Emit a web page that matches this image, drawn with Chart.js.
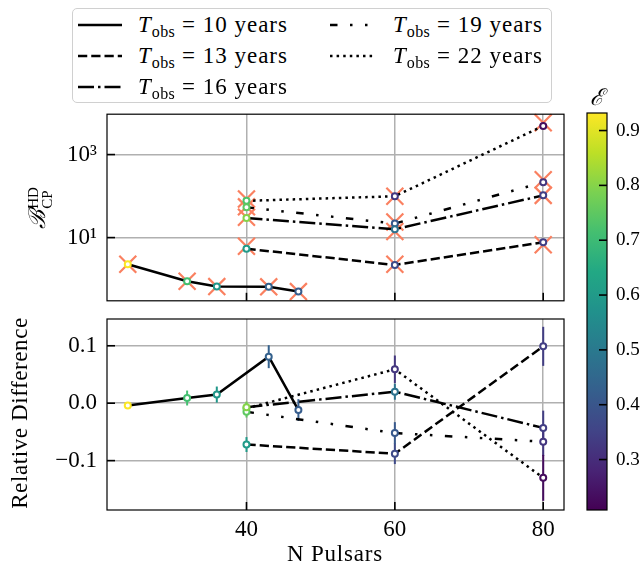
<!DOCTYPE html>
<html>
<head>
<meta charset="utf-8">
<script src="https://cdn.jsdelivr.net/npm/chart.js@4.4.1/dist/chart.umd.min.js"></script>
<style>
html,body{margin:0;padding:0;background:#fff;}
body{width:644px;height:569px;position:relative;overflow:hidden;font-family:"Liberation Serif","Times New Roman",serif;color:#000;}
canvas{position:absolute;}
#legendBox{position:absolute;left:72px;top:8px;width:478px;height:93px;border:1.5px solid #d0d0d0;border-radius:5px;background:#fff;}
.lt{position:absolute;font-size:23px;line-height:30px;height:30px;white-space:nowrap;letter-spacing:1px;}
.lt sub{font-size:16px;vertical-align:-5px;line-height:0;letter-spacing:0.4px;}
.lh{position:absolute;}
.lab{position:absolute;font-size:23px;white-space:nowrap;line-height:1;}
.sym{font-style:italic;}
.ss{display:inline-flex;flex-direction:column;font-size:15px;line-height:14px;vertical-align:middle;margin-left:1px;}
</style>
</head>
<body>
<div id="legendBox"></div>
<canvas id="top" width="580" height="215" style="left:0;top:100px;"></canvas>
<canvas id="bottom" width="580" height="259" style="left:0;top:310px;"></canvas>
<canvas id="cbar" width="74" height="420" style="left:570px;top:100px;"></canvas>
<div class="lab" style="left:40px;top:208px;transform:translate(-50%,-50%) rotate(-90deg);"><span class="sym">ℬ</span><span class="ss"><span>HD</span><span>CP</span></span></div>
<div class="lab" style="left:19px;top:413px;transform:translate(-50%,-50%) rotate(-90deg);letter-spacing:0.6px;">Relative Difference</div>
<div class="lab" style="left:335px;top:553px;transform:translate(-50%,-50%);letter-spacing:0.8px;">N Pulsars</div>
<div class="lab" style="left:597px;top:97px;transform:translate(-50%,-50%);"><span class="sym">ℰ</span></div>
<script>
// ---------------- data ----------------
const obsYears = [10, 13, 16, 19, 22];

const nPulsarsT10 = [24, 32, 36, 43, 47];
const nPulsarsLong = [40, 60, 80];

// Bayes factor (circles)
const bayesT10 = [2.27, 0.89, 0.66, 0.65, 0.50];
const bayesT13 = [5.4, 2.19, 7.7];
const bayesT16 = [29.5, 15.9, 104];
const bayesT19 = [53.6, 21.7, 215];
const bayesT22 = [76.7, 99, 4900];

// Bayes factor (crosses)
const crossT10 = [2.27, 0.89, 0.66, 0.65, 0.50];
const crossT13 = [6.2, 2.27, 6.7];
const crossT16 = [31, 14, 104];
const crossT19 = [55, 23.8, 248];
const crossT22 = [85, 99, 5850];

// colour value epsilon
const epsT10 = [0.93, 0.715, 0.59, 0.43, 0.42];
const epsT13 = [0.60, 0.37, 0.34];
const epsT16 = [0.80, 0.48, 0.34];
const epsT19 = [0.75, 0.41, 0.32];
const epsT22 = [0.73, 0.32, 0.23];

// relative difference and errors
const relDiffT10 = [-0.004, 0.009, 0.015, 0.081, -0.012];
const relErrT10  = [0.005, 0.013, 0.014, 0.020, 0.019];
const relDiffT13 = [-0.072, -0.088, 0.099];
const relErrT13  = [0.013, 0.018, 0.034];
const relDiffT16 = [-0.007, 0.020, -0.043];
const relErrT16  = [0.010, 0.014, 0.030];
const relDiffT19 = [-0.015, -0.052, -0.067];
const relErrT19  = [0.010, 0.019, 0.025];
const relDiffT22 = [-0.009, 0.059, -0.130];
const relErrT22  = [0.010, 0.024, 0.040];

// ticks
const xTicks = [40, 60, 80];
const topTicks = [10, 1000];
const topTickLabels = ['10\u00B9', '10\u00B3'];
const bottomTicks = [-0.1, 0.0, 0.1];
const bottomTickLabels = ['\u22120.1', '0.0', '0.1'];
const cbTicks = [0.3, 0.4, 0.5, 0.6, 0.7, 0.8, 0.9];
const cbTickLabels = ['0.3', '0.4', '0.5', '0.6', '0.7', '0.8', '0.9'];
const cbMin = 0.208, cbMax = 0.932;

// ---------------- style ----------------
const VIRIDIS = ['#440154','#482475','#414487','#355f8d','#2a788e','#21918c','#22a884','#44bf70','#7ad151','#bddf26','#fde725'];
function hex2rgb(h){return [parseInt(h.slice(1,3),16),parseInt(h.slice(3,5),16),parseInt(h.slice(5,7),16)];}
function viridis(v){
  let t = (v - cbMin) / (cbMax - cbMin);
  t = Math.max(0, Math.min(1, t));
  const s = t * 10, i = Math.min(9, Math.floor(s)), f = s - i;
  const a = hex2rgb(VIRIDIS[i]), b = hex2rgb(VIRIDIS[i+1]);
  return 'rgb(' + a.map((c,k)=>Math.round(c + (b[k]-c)*f)).join(',') + ')';
}
const CROSS = '#fa8060';
const FONT = {family: '"Liberation Serif","Times New Roman",serif', size: 23};
const LW = 2.5;
const dashes = [[], [9.25, 4], [16, 4, 2.5, 4], [7.5, 12.5, 2.5, 12.5, 2.5, 12.5], [2.5, 4.1]];

const series = [
  {n: nPulsarsT10, b: bayesT10, c: crossT10, e: epsT10, r: relDiffT10, re: relErrT10},
  {n: nPulsarsLong, b: bayesT13, c: crossT13, e: epsT13, r: relDiffT13, re: relErrT13},
  {n: nPulsarsLong, b: bayesT16, c: crossT16, e: epsT16, r: relDiffT16, re: relErrT16},
  {n: nPulsarsLong, b: bayesT19, c: crossT19, e: epsT19, r: relDiffT19, re: relErrT19},
  {n: nPulsarsLong, b: bayesT22, c: crossT22, e: epsT22, r: relDiffT22, re: relErrT22},
];

// ---------------- legend ----------------
const legendPos = [[78,138,25],[78,138,56],[78,138,87],[330,393,25],[330,393,56]];
obsYears.forEach((yr, i) => {
  const [hx, tx, cy] = legendPos[i];
  const svgNS = 'http://www.w3.org/2000/svg';
  const svg = document.createElementNS(svgNS, 'svg');
  svg.setAttribute('width', 44); svg.setAttribute('height', 6);
  svg.setAttribute('class', 'lh');
  svg.style.left = hx + 'px'; svg.style.top = (cy - 3) + 'px';
  const ln = document.createElementNS(svgNS, 'line');
  ln.setAttribute('x1', 0); ln.setAttribute('x2', 44); ln.setAttribute('y1', 3); ln.setAttribute('y2', 3);
  ln.setAttribute('stroke', '#000'); ln.setAttribute('stroke-width', LW);
  if (dashes[i].length) ln.setAttribute('stroke-dasharray', dashes[i].join(' '));
  svg.appendChild(ln);
  document.body.appendChild(svg);
  const t = document.createElement('div');
  t.className = 'lt';
  t.style.left = tx + 'px'; t.style.top = (cy - 15) + 'px';
  t.innerHTML = '<i>T</i><sub>obs</sub> = ' + yr + ' years';
  document.body.appendChild(t);
});

// ---------------- plugins ----------------
const frameTicks = {
  id: 'frameTicks',
  afterDraw(chart) {
    const {ctx, chartArea: a} = chart;
    ctx.save();
    ctx.strokeStyle = '#000';
    ctx.lineWidth = 1.2;
    ctx.strokeRect(a.left, a.top, a.right - a.left, a.bottom - a.top);
    ctx.lineWidth = 1.6;
    const len = 8;
    Object.values(chart.scales).forEach(s => {
      if (s.options.display === false) return;
      s.ticks.forEach(t => {
        const p = s.getPixelForValue(t.value);
        ctx.beginPath();
        if (s.position === 'bottom') { ctx.moveTo(p, a.bottom); ctx.lineTo(p, a.bottom - len); }
        else if (s.position === 'left') { ctx.moveTo(a.left, p); ctx.lineTo(a.left + len, p); }
        else if (s.position === 'right') { ctx.moveTo(a.right, p); ctx.lineTo(a.right - len, p); }
        ctx.stroke();
      });
    });
    ctx.restore();
  }
};

const errorBars = {
  id: 'errorBars',
  beforeDatasetsDraw(chart) {
    const {ctx, scales: {x, y}} = chart;
    ctx.save();
    ctx.lineWidth = 2;
    chart.data.datasets.forEach(ds => {
      if (!ds.yErr) return;
      ds.data.forEach((p, j) => {
        const px = x.getPixelForValue(p.x);
        ctx.strokeStyle = ds.pointBorderColor[j];
        ctx.beginPath();
        ctx.moveTo(px, y.getPixelForValue(p.y - ds.yErr[j]));
        ctx.lineTo(px, y.getPixelForValue(p.y + ds.yErr[j]));
        ctx.stroke();
      });
    });
    ctx.restore();
  }
};

// ---------------- helpers ----------------
function fixV(width) { return s => { s.width = width; s.paddingTop = 0; s.paddingBottom = 0; }; }
function fixH(height) { return s => { s.height = height; s.paddingLeft = 0; s.paddingRight = 0; }; }
function xScale(showLabels, height) {
  return {
    type: 'linear', position: 'bottom', min: 21.2, max: 82.8,
    afterBuildTicks: s => { s.ticks = xTicks.map(v => ({value: v})); },
    afterFit: fixH(height),
    ticks: {display: showLabels, font: FONT, color: '#000', padding: 6, autoSkip: false, maxRotation: 0,
            callback: v => String(v)},
    grid: {color: '#b0b0b0', lineWidth: 1.5, drawTicks: false},
    border: {display: false}
  };
}
function lineDataset(s, i, yvals, withErr) {
  const cols = s.e.map(viridis);
  const ds = {
    data: s.n.map((x, k) => ({x: x, y: yvals[k]})),
    showLine: true, tension: 0,
    borderColor: '#000', borderWidth: LW, borderDash: dashes[i],
    pointRadius: 3, pointBorderWidth: 2, pointBackgroundColor: '#fff',
    pointBorderColor: cols, pointStyle: 'circle', order: 0, clip: false
  };
  if (withErr) ds.yErr = s.re;
  return ds;
}
const baseOpts = {
  responsive: false, animation: false, devicePixelRatio: 1,
  plugins: {legend: {display: false}, tooltip: {enabled: false}}
};

// ---------------- top chart ----------------
const topDatasets = [];
series.forEach((s, i) => topDatasets.push(lineDataset(s, i, s.b, false)));
series.forEach((s, i) => topDatasets.push({
  data: s.n.map((x, k) => ({x: x, y: s.c[k]})),
  showLine: false, pointStyle: 'crossRot', pointRadius: 12, pointBorderWidth: 2.2,
  pointBorderColor: CROSS, borderColor: CROSS, pointBackgroundColor: CROSS, order: 5, clip: false
}));
new Chart(document.getElementById('top'), {
  type: 'scatter',
  data: {datasets: topDatasets},
  options: Object.assign({}, baseOpts, {
    layout: {padding: {top: 13, right: 16, left: 0, bottom: 0}},
    scales: {
      x: xScale(false, 12),
      y: {
        type: 'logarithmic', position: 'left', min: 0.317, max: 9380,
        afterBuildTicks: s => { s.ticks = topTicks.map(v => ({value: v})); },
        afterFit: fixV(107),
        ticks: {font: FONT, color: '#000', padding: 10, autoSkip: false,
                callback: (v, idx) => topTickLabels[idx]},
        grid: {color: '#b0b0b0', lineWidth: 1.5, drawTicks: false},
        border: {display: false}
      }
    }
  }),
  plugins: [frameTicks]
});

// ---------------- bottom chart ----------------
const bottomDatasets = series.map((s, i) => lineDataset(s, i, s.r, true));
new Chart(document.getElementById('bottom'), {
  type: 'scatter',
  data: {datasets: bottomDatasets},
  options: Object.assign({}, baseOpts, {
    layout: {padding: {top: 9, right: 16, left: 0, bottom: 0}},
    scales: {
      x: xScale(true, 59),
      y: {
        type: 'linear', position: 'left', min: -0.186, max: 0.1466,
        afterBuildTicks: s => { s.ticks = bottomTicks.map(v => ({value: v})); },
        afterFit: fixV(107),
        ticks: {font: FONT, color: '#000', padding: 10, autoSkip: false,
                callback: (v, idx) => bottomTickLabels[idx]},
        grid: {color: '#b0b0b0', lineWidth: 1.5, drawTicks: false},
        border: {display: false}
      }
    }
  }),
  plugins: [errorBars, frameTicks]
});

// ---------------- colour bar ----------------
new Chart(document.getElementById('cbar'), {
  type: 'bar',
  data: {labels: ['eps'], datasets: [{
    data: [[cbMin, cbMax]],
    backgroundColor: (ctx) => {
      const a = ctx.chart.chartArea;
      if (!a || !isFinite(a.top) || !isFinite(a.bottom) || a.bottom === a.top) return VIRIDIS[5];
      const g = ctx.chart.ctx.createLinearGradient(0, a.bottom, 0, a.top);
      VIRIDIS.forEach((c, i) => g.addColorStop(i / 10, c));
      return g;
    },
    borderWidth: 0, barPercentage: 1, categoryPercentage: 1
  }]},
  options: Object.assign({}, baseOpts, {
    layout: {padding: {top: 13, left: 17, bottom: 10, right: 0}},
    scales: {
      x: {type: 'category', display: false},
      y: {
        type: 'linear', position: 'right', min: cbMin, max: cbMax,
        afterBuildTicks: s => { s.ticks = cbTicks.map(v => ({value: v})); },
        afterFit: fixV(37),
        ticks: {font: {family: FONT.family, size: 19}, color: '#000', padding: 9, autoSkip: false,
                callback: (v, idx) => cbTickLabels[idx]},
        grid: {display: false, drawTicks: false},
        border: {display: false}
      }
    }
  }),
  plugins: [frameTicks]
});
</script>
</body>
</html>
